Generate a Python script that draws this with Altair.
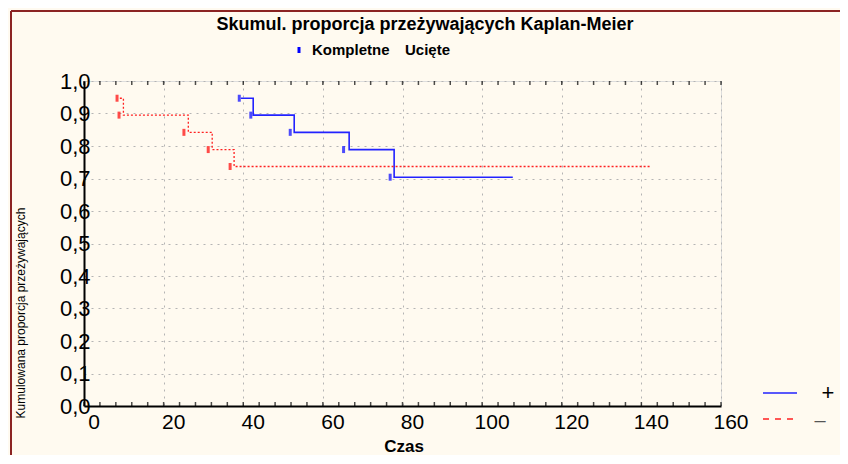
import altair as alt
import pandas as pd

# ---- data ----
red_times = [9.0, 9.9, 26.2, 32.2, 37.7, 142.2]
red_surv = [0.947, 0.895, 0.842, 0.789, 0.737, 0.737]
blue_times = [39.4, 42.5, 52.8, 66.6, 77.9, 107.7]
blue_surv = [0.947, 0.895, 0.842, 0.789, 0.704, 0.704]

red_mark_t = [8.3, 8.8, 25.1, 31.2, 36.7]
red_mark_s = [0.947, 0.895, 0.842, 0.789, 0.737]
blue_mark_t = [39.0, 41.9, 51.8, 65.2, 76.9]
blue_mark_s = [0.947, 0.895, 0.842, 0.789, 0.704]

x_ticks = [0, 20, 40, 60, 80, 100, 120, 140, 160]
y_ticks = [0.0, 0.1, 0.2, 0.3, 0.4, 0.5, 0.6, 0.7, 0.8, 0.9, 1.0]
minor_x = [0, 4, 8, 12, 16, 20, 24, 28, 32, 36, 40, 44, 48, 52, 56, 60, 64, 68, 72, 76, 80,
           84, 88, 92, 96, 100, 104, 108, 112, 116, 120, 124, 128, 132, 136, 140, 144, 148,
           152, 156, 160]

title_text = "Skumul. proporcja przeżywających Kaplan-Meier"
legend_top = ["Kompletne", "Ucięte"]
legend_groups = ["+", "–"]
x_title = "Czas"
y_title = "Kumulowana proporcja przeżywających"

W, H = 637, 325
FONT = "Liberation Sans"

xs = alt.Scale(domain=[0, 160], nice=False, zero=False)
ys = alt.Scale(domain=[0, 1], nice=False)

x_axis = alt.Axis(values=x_ticks, grid=True, gridDash=[2, 5], gridColor="#b4b4b4",
                  ticks=False, domainColor="black", domainWidth=2, labels=False, title=None)
y_axis = alt.Axis(values=y_ticks, grid=True, gridDash=[2, 5], gridColor="#b4b4b4",
                  ticks=False, domainColor="black", domainWidth=2, labelFontSize=22,
                  labelFont=FONT, labelColor="black", labelPadding=-6,
                  labelFlush=False, labelOverlap=False, title=None,
                  labelExpr="replace(format(datum.value, '.1f'), '.', ',')")

X = lambda: alt.X("t:Q", scale=xs, axis=x_axis)
Y = lambda: alt.Y("s:Q", scale=ys, axis=y_axis)

red_df = pd.DataFrame({"t": red_times, "s": red_surv})
blue_df = pd.DataFrame({"t": blue_times, "s": blue_surv})
red_m = pd.DataFrame({"t": red_mark_t, "s": red_mark_s})
blue_m = pd.DataFrame({"t": blue_mark_t, "s": blue_mark_s})
minor_df = pd.DataFrame({"t": minor_x})
xtick_df = pd.DataFrame({"t": x_ticks})

blue_line = alt.Chart(blue_df).mark_line(interpolate="step-after", color="#2222ff",
                                         strokeWidth=1.6).encode(x=X(), y=Y())

red_line = alt.Chart(red_df).mark_line(interpolate="step-after", color="#ff2020",
                                       strokeWidth=1.3, strokeDash=[2, 2]).encode(x=X(), y=Y())

blue_marks = alt.Chart(blue_m).mark_tick(orient="vertical", color="#0000ff", size=7,
                                         thickness=3).encode(x=X(), y=Y())
red_marks = alt.Chart(red_m).mark_tick(orient="vertical", color="#ff0000", size=7,
                                       thickness=3).encode(x=X(), y=Y())

minor_bottom = alt.Chart(minor_df).mark_tick(orient="vertical", color="black", size=4,
                                             thickness=1.5).encode(x=X(), y=alt.value(H - 2))
minor_top = alt.Chart(minor_df).mark_tick(orient="vertical", color="black", size=4,
                                          thickness=1.5).encode(x=X(), y=alt.value(2))

x_labels = alt.Chart(xtick_df).mark_text(font=FONT, fontSize=21, dx=10, baseline="middle",
                                         align="center", color="black").encode(
    x=X(), y=alt.value(H + 17), text=alt.Text("t:Q", format="d"))

one = pd.DataFrame({"k": [0]})

def label(text, x, y, size, weight="bold", align="center", angle=0, color="black", font=FONT):
    return alt.Chart(one).mark_text(text=text, font=font, fontSize=size, fontWeight=weight,
                                    align=align, baseline="middle", angle=angle,
                                    color=color).encode(x=alt.value(x), y=alt.value(y))

title = label(title_text, 341, -56, 18)
leg1_mark = alt.Chart(one).mark_rule(color="#0000ff", strokeWidth=3).encode(
    x=alt.value(215), y=alt.value(-34), y2=alt.value(-28))
leg1 = label(legend_top[0], 228, -31, 15, align="left")
leg2 = label(legend_top[1], 321, -31, 15, align="left")
xt = label(x_title, 320, 366, 17)
yt = label(y_title, -63, 232, 12, weight="normal", angle=270)

frame_top = alt.Chart(one).mark_rule(color="#8b2323", strokeWidth=2).encode(
    x=alt.value(-73), x2=alt.value(780), y=alt.value(-70))
frame_left = alt.Chart(one).mark_rule(color="#8b2323", strokeWidth=2).encode(
    x=alt.value(-73), y=alt.value(-70), y2=alt.value(390))

lg_blue = alt.Chart(one).mark_rule(color="#2222ff", strokeWidth=1.5).encode(
    x=alt.value(679), x2=alt.value(713), y=alt.value(312))
lg_red = alt.Chart(one).mark_rule(color="#ff2020", strokeWidth=1.5, strokeDash=[6, 6]).encode(
    x=alt.value(679), x2=alt.value(711), y=alt.value(338))
lg_plus = label(legend_groups[0], 744, 312, 22, weight="normal")
lg_minus = label(legend_groups[1], 736, 340, 20, weight="normal", color="#555555")

chart = alt.layer(
    blue_line, red_line, blue_marks, red_marks, minor_bottom, minor_top, x_labels,
    title, leg1_mark, leg1, leg2, xt, yt, frame_top, frame_left,
    lg_blue, lg_red, lg_plus, lg_minus
).properties(
    width=W, height=H,
    autosize=alt.AutoSizeParams(type="none"),
    padding={"left": 76, "top": 73, "right": 119, "bottom": 49},
    background="#fffaf0",
).configure_view(stroke="black", strokeWidth=1.5, fill="white"
).configure(font=FONT)

chart.save("out.html", embed_options={"renderer": "svg", "actions": False})
